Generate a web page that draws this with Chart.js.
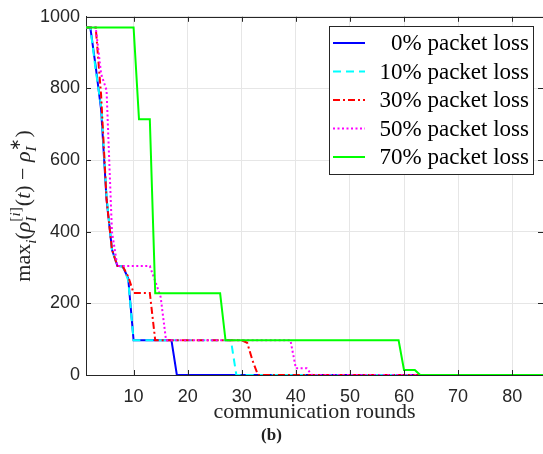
<!DOCTYPE html>
<html>
<head>
<meta charset="utf-8">
<script src="https://cdn.jsdelivr.net/npm/chart.js@4.4.1/dist/chart.umd.min.js"></script>
<style>
  body { margin: 0; background: #fff; }
  #wrap { width: 543px; height: 454px; }
</style>
</head>
<body>
<div id="wrap"><canvas id="chart" width="543" height="454"></canvas></div>
<script>
// communication rounds / max deviation
const xTicks = [10, 20, 30, 40, 50, 60, 70, 80];
const yTicks = [0, 200, 400, 600, 800, 1000];

const labels = ["0% packet loss", "10% packet loss", "30% packet loss", "50% packet loss", "70% packet loss"];

const loss0Rounds = [1, 2, 3, 4, 5, 6, 7, 8, 9, 10, 17, 18, 86];
const loss0Values = [970, 970, 860, 740, 490, 350, 305, 303, 270, 97, 97, 0, 0];

const loss10Rounds = [1, 2, 3, 4, 5, 6, 7, 8, 9, 10, 28, 29, 86];
const loss10Values = [970, 970, 850, 750, 500, 350, 305, 303, 265, 97, 97, 0, 0];

const loss30Rounds = [1, 3, 4, 5, 6, 7, 8, 9, 10, 13, 14, 30, 31, 32, 33, 86];
const loss30Values = [970, 970, 780, 490, 350, 305, 303, 275, 229, 229, 97, 97, 90, 40, 0, 0];

const loss50Rounds = [1, 3, 4, 5, 6, 7, 13, 14, 15, 16, 39, 40, 42, 43, 86];
const loss50Values = [970, 970, 840, 795, 400, 304, 304, 262, 218, 97, 97, 19, 19, 0, 0];

const loss70Rounds = [1, 10, 11, 13, 14, 26, 27, 59, 60, 62, 63, 86];
const loss70Values = [970, 970, 714, 714, 228, 228, 97, 97, 14, 14, 0, 0];

const colors = ["#0000ff", "#00ffff", "#ff0000", "#ff00ff", "#00ff00"];
const dashes = [[], [8, 5], [7, 3, 2, 3], [2, 2.5], []];

const rounds = [loss0Rounds, loss10Rounds, loss30Rounds, loss50Rounds, loss70Rounds];
const values = [loss0Values, loss10Values, loss30Values, loss50Values, loss70Values];

const axisColor = "#262626";

const datasets = labels.map((label, i) => ({
  label: label,
  data: rounds[i].map((r, j) => ({ x: r, y: values[i][j] })),
  borderColor: colors[i],
  backgroundColor: colors[i],
  borderWidth: 2,
  borderDash: dashes[i],
  pointRadius: 0,
  tension: 0,
  order: labels.length - i, // last series on top, like the figure
}));

// y label with sub/superscripts
const yLabel = [
  { t: "max" },
  { t: "i", it: true, k: 0.7, dy: 0.3 },
  { t: "(" },
  { t: "ρ", it: true },
  { sub: [{ t: "I", it: true }], sup: [{ t: "[" }, { t: "i", it: true }, { t: "]" }] },
  { t: "(" },
  { t: "t", it: true },
  { t: ") − " },
  { t: "ρ", it: true },
  { sub: [{ t: "I", it: true }], sup: [{ t: "∗" }] },
  { t: ")" },
];

function setFont(ctx, p, size) {
  ctx.font = (p.it ? "italic " : "") + size + "px 'Liberation Serif'";
}

function runWidth(ctx, run, size) {
  let w = 0;
  run.forEach(p => {
    setFont(ctx, p, size * (p.k || 1));
    w += ctx.measureText(p.t).width;
  });
  return w;
}

function drawRun(ctx, run, x, y, size, draw) {
  run.forEach(p => {
    if (p.sub) {
      const ws = runWidth(ctx, p.sub, size * 0.7);
      const wp = runWidth(ctx, p.sup, size * 0.7);
      if (draw) {
        drawRun(ctx, p.sub, x, y + size * 0.3, size * 0.7, true);
        drawRun(ctx, p.sup, x, y - size * 0.42, size * 0.7, true);
      }
      x += Math.max(ws, wp) + 1;
      return;
    }
    const s = size * (p.k || 1);
    setFont(ctx, p, s);
    if (draw) ctx.fillText(p.t, x, y + (p.dy || 0) * size);
    x += ctx.measureText(p.t).width;
  });
  return x;
}

const framePlugin = {
  id: "frame",
  afterDraw(chart) {
    const { ctx, chartArea: a, scales } = chart;
    ctx.save();
    ctx.strokeStyle = axisColor;
    ctx.lineWidth = 1;
    ctx.setLineDash([]);

    // top border
    ctx.beginPath();
    ctx.moveTo(a.left, Math.round(a.top) + 0.5);
    ctx.lineTo(a.right, Math.round(a.top) + 0.5);
    ctx.stroke();

    // inward ticks
    ctx.beginPath();
    scales.x.ticks.forEach(t => {
      const px = Math.round(scales.x.getPixelForValue(t.value)) + 0.5;
      ctx.moveTo(px, a.bottom);
      ctx.lineTo(px, a.bottom - 5);
      ctx.moveTo(px, a.top);
      ctx.lineTo(px, a.top + 5);
    });
    scales.y.ticks.forEach(t => {
      const py = Math.round(scales.y.getPixelForValue(t.value)) + 0.5;
      ctx.moveTo(a.left, py);
      ctx.lineTo(a.left + 5, py);
      ctx.moveTo(a.right, py);
      ctx.lineTo(a.right - 5, py);
    });
    ctx.stroke();

    // legend
    const bx = 329.5, by = 26.5, bw = 204, bh = 148;
    ctx.fillStyle = "#fff";
    ctx.fillRect(bx, by, bw, bh);
    ctx.strokeStyle = axisColor;
    ctx.strokeRect(bx, by, bw, bh);
    ctx.font = "23px 'Liberation Serif'";
    ctx.textAlign = "right";
    ctx.textBaseline = "middle";
    labels.forEach((label, i) => {
      const cy = 43 + i * 28.5;
      ctx.beginPath();
      ctx.strokeStyle = colors[i];
      ctx.lineWidth = 2;
      ctx.setLineDash(dashes[i]);
      ctx.moveTo(333, cy);
      ctx.lineTo(365, cy);
      ctx.stroke();
      ctx.fillStyle = "#000";
      ctx.fillText(label, 529, cy + 1);
    });

    // y axis title
    const size = 22;
    ctx.setLineDash([]);
    ctx.fillStyle = axisColor;
    ctx.textAlign = "left";
    ctx.textBaseline = "alphabetic";
    ctx.translate(22, (a.top + a.bottom) / 2 + 10);
    ctx.rotate(-Math.PI / 2);
    const w = drawRun(ctx, yLabel, 0, 0, size, false);
    drawRun(ctx, yLabel, -w / 2, size * 0.35, size, true);
    ctx.restore();
  },
};

new Chart(document.getElementById("chart").getContext("2d"), {
  type: "line",
  data: { datasets: datasets },
  options: {
    responsive: false,
    animation: false,
    devicePixelRatio: 1,
    layout: { padding: { left: 0, right: 0, top: 16, bottom: 0 } },
    plugins: {
      legend: { display: false },
      tooltip: { enabled: false },
      title: {
        display: true,
        text: "(b)",
        position: "bottom",
        color: "#222",
        font: { family: "'Liberation Serif'", size: 17, weight: "bold" },
        padding: { top: 0, bottom: 8.6 },
      },
    },
    scales: {
      x: {
        type: "linear",
        min: 1.2,
        max: 85.7,
        afterBuildTicks: s => { s.ticks = xTicks.map(v => ({ value: v })); },
        afterFit: s => { s.height = 50; },
        grid: { color: "#e6e6e6", drawTicks: false },
        border: { color: axisColor, width: 1 },
        ticks: {
          color: axisColor,
          padding: 11,
          maxRotation: 0,
          font: { family: "'Liberation Sans'", size: 18 },
          callback: v => String(v),
        },
        title: {
          display: true,
          text: "communication rounds",
          color: axisColor,
          font: { family: "'Liberation Serif'", size: 22 },
          padding: { top: 0, bottom: 0 },
        },
      },
      y: {
        min: 0,
        max: 1000,
        afterBuildTicks: s => { s.ticks = yTicks.map(v => ({ value: v })); },
        afterFit: s => { s.width = 86; },
        grid: { color: "#e6e6e6", drawTicks: false },
        border: { color: axisColor, width: 1 },
        ticks: {
          color: axisColor,
          padding: 6,
          font: { family: "'Liberation Sans'", size: 18 },
          callback: v => String(v),
        },
      },
    },
  },
  plugins: [framePlugin],
});
</script>
</body>
</html>
